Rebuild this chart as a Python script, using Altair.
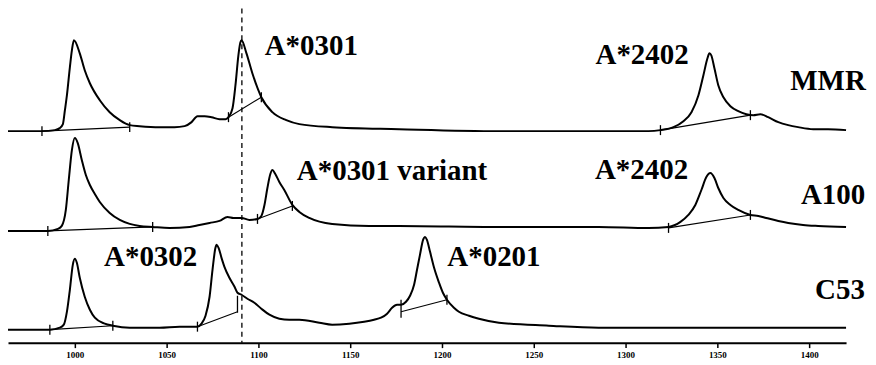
import altair as alt
import pandas as pd

# ---- data (retention index, signal above each trace's baseline) ----
mmr_x = [963.6, 982.1, 989.1, 991.8, 993.5, 994.6, 995.7, 997.3, 998.4, 999.5, 1002.7, 1005.4,
         1008.2, 1013.6, 1019.0, 1024.5, 1029.9, 1035.3, 1046.2, 1054.3, 1059.8, 1063.6, 1066.8,
         1070.7, 1074.5, 1078.8, 1082.1, 1083.7, 1085.9, 1087.5, 1089.1, 1090.2, 1090.8, 1093.5,
         1096.7, 1101.6, 1107.6, 1115.2, 1122.3, 1140.2, 1176.6, 1231.0, 1285.3, 1312.5, 1319.0,
         1326.1, 1331.5, 1335.9, 1339.7, 1342.4, 1344.6, 1345.7, 1346.7, 1348.4, 1350.5, 1353.3,
         1357.1, 1361.4, 1365.8, 1369.6, 1373.4, 1377.7, 1383.2, 1388.6, 1394.0, 1402.2, 1410.3, 1420.1]
mmr_s = [0, 0, 1, 3, 7, 21, 36, 64, 81, 91, 78, 61,
         48, 31, 19, 11, 6, 5, 4, 4, 5, 9, 15,
         15, 14, 12, 12, 14, 23, 46, 76, 89, 91, 78,
         58, 34, 19, 11, 7, 4, 2, 0, 0, 0, 1,
         4, 10, 19, 36, 56, 73, 78, 76, 63, 46, 34,
         25, 20, 17, 16, 17, 14, 9, 6, 4, 2, 2, 1]

a100_x = [963.6, 985.3, 990.8, 992.9, 995.1, 996.7, 998.4, 1000.0, 1001.6, 1003.8, 1006.0, 1008.2,
          1010.9, 1013.6, 1019.0, 1024.5, 1029.9, 1035.3, 1042.4, 1051.6, 1062.5, 1067.9, 1073.4,
          1078.8, 1083.2, 1086.4, 1090.8, 1095.1, 1099.5, 1101.6, 1103.3, 1104.9, 1106.5, 1107.6,
          1109.2, 1111.4, 1114.1, 1118.5, 1122.3, 1127.7, 1140.2, 1160.3, 1176.6, 1231.0, 1285.3,
          1312.5, 1323.4, 1329.9, 1334.2, 1338.0, 1341.3, 1344.0, 1346.2, 1348.4, 1350.5, 1353.3,
          1357.1, 1361.4, 1368.0, 1372.3, 1376.6, 1383.2, 1388.6, 1396.7, 1404.9, 1420.1]
a100_s = [0, 0, 2, 5, 21, 51, 81, 93, 88, 71, 56, 46,
          37, 29, 18, 11, 7, 5, 4, 3, 4, 6, 8,
          10, 14, 13, 13, 11, 12, 15, 26, 43, 57, 61,
          57, 49, 41, 26, 19, 13, 7, 5, 5, 4, 4,
          3, 4, 9, 16, 26, 41, 54, 58, 53, 43, 33,
          26, 21, 16, 15, 13, 10, 8, 6, 5, 4]

c53_x = [963.6, 986.4, 991.8, 994.0, 995.7, 997.3, 998.9, 1000.0, 1001.1, 1002.7, 1005.4, 1008.2,
         1010.9, 1016.3, 1020.7, 1029.9, 1046.2, 1057.1, 1066.8, 1069.0, 1071.2, 1073.4, 1075.0,
         1076.6, 1077.2, 1078.3, 1079.9, 1081.5, 1084.2, 1087.0, 1088.6, 1090.8, 1094.0, 1097.8,
         1101.6, 1106.0, 1111.4, 1116.8, 1122.3, 1133.2, 1140.2, 1149.5, 1157.6, 1163.0, 1166.8,
         1170.1, 1172.8, 1175.5, 1177.7, 1180.4, 1182.6, 1184.8, 1186.4, 1188.0, 1189.7, 1190.8,
         1191.8, 1193.5, 1195.7, 1198.4, 1200.5, 1202.7, 1206.5, 1209.2, 1214.7, 1220.1, 1231.0,
         1258.2, 1285.3, 1339.7, 1420.1]
c53_s = [0, 0, 2, 5, 18, 40, 65, 71, 67, 52, 33, 20,
         12, 6, 4, 2, 2, 3, 3, 6, 14, 33, 60,
         82, 85, 82, 72, 63, 52, 43, 37, 35, 31, 27,
         21, 15, 11, 10, 10, 7, 5, 6, 8, 10, 12,
         16, 22, 25, 25, 28, 34, 45, 60, 75, 90, 93,
         90, 78, 62, 47, 37, 30, 22, 18, 14, 11, 7,
         4, 2, 2, 2]

# vertical offset of each trace's baseline in the stack
offsets = {"MMR": 212, "A100": 112, "C53": 13}

# integration baselines / drop lines: sample, x, signal, x2, signal2
seg_sample = ["MMR", "MMR", "MMR", "A100", "A100", "A100", "C53", "C53", "C53"]
seg_x = [982.1, 1083.7, 1319.0, 985.3, 1099.5, 1323.4, 986.4, 1066.8, 1177.7]
seg_s = [0, 14, 1, 0, 12, 3, 0, 3, 18]
seg_x2 = [1029.9, 1101.6, 1368.0, 1042.4, 1118.5, 1368.0, 1020.7, 1088.6, 1202.7]
seg_s2 = [4, 34, 16, 4, 25, 16, 4, 18, 30]

# integration tick marks: sample, x, low, high
tick_sample = ["MMR"] * 6 + ["A100"] * 6 + ["C53"] * 6
tick_x = [982.1, 1029.9, 1083.7, 1101.6, 1319.0, 1368.0,
          985.3, 1042.4, 1099.5, 1118.5, 1323.4, 1368.0,
          986.4, 1020.7, 1066.8, 1088.6, 1177.7, 1202.7]
tick_lo = [-5, -1, 9, 29, -4, 11,
           -5, -1, 7, 20, -2, 11,
           -5, -1, -2, 17, 12, 25]
tick_hi = [5, 9, 19, 39, 6, 21,
           5, 9, 17, 30, 8, 21,
           5, 9, 8, 34, 30, 35]

ref_line_x = [1091]
axis_ticks = [1000, 1050, 1100, 1150, 1200, 1250, 1300, 1350, 1400]

label_text = ["A*0301", "A*2402", "MMR", "A*0301 variant", "A*2402", "A100",
              "A*0302", "A*0201", "C53"]
label_x = [1128.8, 1309.0, 1410.3, 1172.8, 1308.7, 1413.0, 1041.3, 1228.3, 1416.8]
label_y = [297, 288, 262, 172, 173, 148, 86, 86, 53]

# ---- build tables ----
rows = []
for name, xs, ss in [("MMR", mmr_x, mmr_s), ("A100", a100_x, a100_s), ("C53", c53_x, c53_s)]:
    for x, s in zip(xs, ss):
        rows.append({"sample": name, "x": x, "y": s + offsets[name]})
traces = pd.DataFrame(rows)

segs = pd.DataFrame({
    "sample": seg_sample, "x": seg_x, "x2": seg_x2,
    "y": [s + offsets[n] for n, s in zip(seg_sample, seg_s)],
    "y2": [s + offsets[n] for n, s in zip(seg_sample, seg_s2)],
})
ticks = pd.DataFrame({
    "sample": tick_sample, "x": tick_x,
    "y": [s + offsets[n] for n, s in zip(tick_sample, tick_lo)],
    "y2": [s + offsets[n] for n, s in zip(tick_sample, tick_hi)],
})
labels = pd.DataFrame({"text": label_text, "x": label_x, "y": label_y})
ref = pd.DataFrame({"x": ref_line_x})

PLOT_W = 840
PLOT_H = 335
xscale = alt.Scale(domain=[963.6, 1420.1], nice=False, zero=False, range=[0, PLOT_W])
yscale = alt.Scale(domain=[0, 335], nice=False, zero=False, range=[PLOT_H, 0])

xaxis = alt.Axis(values=axis_ticks, title=None, grid=False, domainColor="black",
                 domainWidth=2, tickColor="black", tickSize=5, tickWidth=1.5,
                 labelFont="Liberation Serif", labelFontWeight="bold", labelFontSize=9,
                 labelColor="black", labelPadding=3, format="d")

line = alt.Chart(traces).mark_line(color="black", strokeWidth=2, interpolate="monotone").encode(
    x=alt.X("x:Q", scale=xscale, axis=xaxis),
    y=alt.Y("y:Q", scale=yscale, axis=None),
    detail="sample:N",
)

seg_layer = alt.Chart(segs).mark_rule(color="black", strokeWidth=1.1).encode(
    x="x:Q", x2="x2:Q", y="y:Q", y2="y2:Q"
)

tick_layer = alt.Chart(ticks).mark_rule(color="black", strokeWidth=1.3).encode(
    x="x:Q", y="y:Q", y2="y2:Q"
)

ref_layer = alt.Chart(ref).mark_rule(color="black", strokeWidth=1.3, strokeDash=[5, 4]).encode(
    x="x:Q", y=alt.value(0), y2=alt.value(PLOT_H)
)

text_layer = alt.Chart(labels).mark_text(font="Liberation Serif", fontWeight="bold",
                                         fontSize=29, color="black", align="center",
                                         baseline="middle").encode(
    x="x:Q", y="y:Q", text="text:N"
)

chart = alt.layer(ref_layer, line, seg_layer, tick_layer, text_layer).properties(
    width=862, height=PLOT_H,
    autosize=alt.AutoSizeParams(type="none"),
    padding={"left": 0, "top": 0, "right": 0, "bottom": 20},
    background="white",
).configure_view(stroke=None)

chart.save("out.html", embed_options={"renderer": "svg", "actions": False})
